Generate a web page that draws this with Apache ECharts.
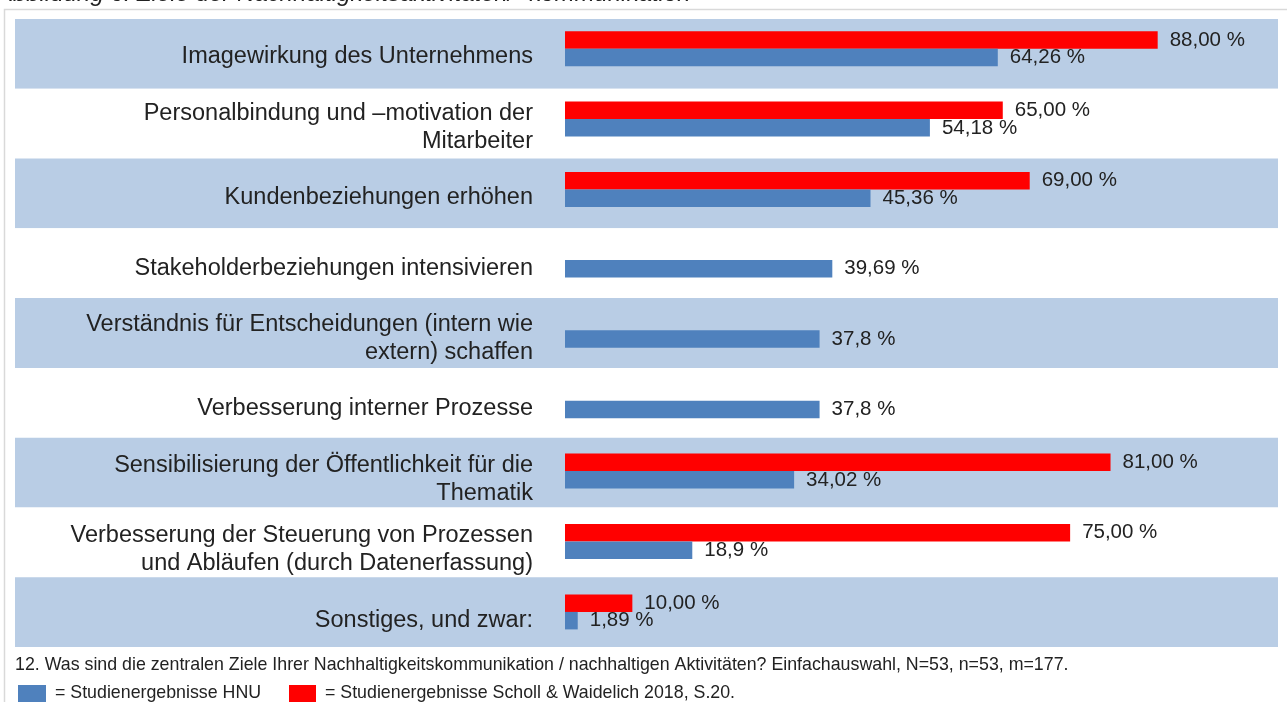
<!DOCTYPE html>
<html>
<head>
<meta charset="utf-8">
<title>Ziele der Nachhaltigkeitskommunikation</title>
<script src="https://cdn.jsdelivr.net/npm/echarts@6/dist/echarts.min.js"></script>
<style>
    html, body {margin: 0; padding: 0; background: #fff;}
    #zieleChart {width: 1287px; height: 702px;}
</style>
</head>
<body>
<div id="zieleChart"></div>
<script>
var categories = [
    'Imagewirkung des Unternehmens',
    'Personalbindung und \u2013motivation der\nMitarbeiter',
    'Kundenbeziehungen erhöhen',
    'Stakeholderbeziehungen intensivieren',
    'Verständnis für Entscheidungen (intern wie\nextern) schaffen',
    'Verbesserung interner Prozesse',
    'Sensibilisierung der Öffentlichkeit für die\nThematik',
    'Verbesserung der Steuerung von Prozessen\nund Abläufen (durch Datenerfassung)',
    'Sonstiges, und zwar:'
];
// Studienergebnisse HNU
var hnuValues = [64.26, 54.18, 45.36, 39.69, 37.8, 37.8, 34.02, 18.9, 1.89];
// Studienergebnisse Scholl & Waidelich 2018
var schollValues = [88, 65, 69, null, null, null, 81, 75, 10];

var captionText = 'Abbildung 6: Ziele der Nachhaltigkeitsaktivitäten/ -kommunikation';
var questionText = '12. Was sind die zentralen Ziele Ihrer Nachhaltigkeitskommunikation / nachhaltigen Aktivitäten? Einfachauswahl, N=53, n=53, m=177.';
var legendHnu = '= Studienergebnisse HNU';
var legendScholl = '= Studienergebnisse Scholl & Waidelich 2018, S.20.';

var FONT = '"Liberation Sans", Arial, sans-serif';
var TEXT_COLOR = '#222222';

var myChart = echarts.init(document.getElementById('zieleChart'));

function hiddenX(gridIndex) {
    return {gridIndex: gridIndex, type: 'value', min: 0, max: 100, show: false};
}

var option = {
    animation: false,
    grid: [
        // hintergrund streifen
        {left: 15, right: 9, top: 19, height: 628},
        // beschriftung
        {left: 565, width: 673.5, top: 21.8, height: 633.6},
        // balken
        {left: 565, width: 673.5, top: 13.5, height: 633.6}
    ],
    xAxis: [hiddenX(0), hiddenX(1), hiddenX(2)],
    yAxis: [
        {
            gridIndex: 0, type: 'category', inverse: true, data: categories,
            axisLine: {show: false}, axisTick: {show: false}, axisLabel: {show: false},
            splitArea: {show: true, areaStyle: {color: ['#b9cde5', '#ffffff']}}
        },
        {
            gridIndex: 1, type: 'category', inverse: true, data: categories,
            axisLine: {show: false}, axisTick: {show: false},
            axisLabel: {
                margin: 32, fontFamily: FONT, fontSize: 23.5, lineHeight: 28,
                color: TEXT_COLOR, align: 'right'
            }
        },
        {
            gridIndex: 2, type: 'category', inverse: true, data: categories,
            show: false
        }
    ],
    series: [
        {
            name: 'Scholl & Waidelich 2018',
            type: 'bar',
            xAxisIndex: 2,
            yAxisIndex: 2,
            data: schollValues,
            barWidth: 17.5,
            barGap: '0%',
            itemStyle: {color: '#ff0000'},
            label: {
                show: true, position: 'right', distance: 12,
                fontFamily: FONT, fontSize: 20.5, color: TEXT_COLOR,
                formatter: function (p) {
                    return p.value.toFixed(2).replace('.', ',') + ' %';
                }
            }
        },
        {
            name: 'HNU',
            type: 'bar',
            xAxisIndex: 2,
            yAxisIndex: 2,
            data: hnuValues,
            barWidth: 17.5,
            barGap: '0%',
            itemStyle: {color: '#4f81bd'},
            label: {
                show: true, position: 'right', distance: 12,
                fontFamily: FONT, fontSize: 20.5, color: TEXT_COLOR,
                formatter: function (p) {
                    return String(p.value).replace('.', ',') + ' %';
                }
            }
        }
    ],
    graphic: [
        {
            type: 'rect', silent: true,
            shape: {x: 4.5, y: 9.5, width: 1300, height: 720},
            style: {fill: 'none', stroke: '#d9d9d9', lineWidth: 1.5}
        },
        {
            type: 'text', left: -3, top: -18, silent: true,
            style: {text: captionText, font: 'italic 24px ' + FONT, fill: TEXT_COLOR}
        },
        {
            type: 'text', left: 15, top: 656, silent: true,
            style: {text: questionText, font: '17.8px ' + FONT, fill: TEXT_COLOR}
        },
        {
            type: 'rect', silent: true,
            shape: {x: 18, y: 685, width: 28, height: 20},
            style: {fill: '#4f81bd'}
        },
        {
            type: 'text', left: 55, top: 684, silent: true,
            style: {text: legendHnu, font: '17.8px ' + FONT, fill: TEXT_COLOR}
        },
        {
            type: 'rect', silent: true,
            shape: {x: 289, y: 685, width: 27, height: 20},
            style: {fill: '#ff0000'}
        },
        {
            type: 'text', left: 325, top: 684, silent: true,
            style: {text: legendScholl, font: '17.8px ' + FONT, fill: TEXT_COLOR}
        }
    ]
};
myChart.setOption(option);
window.onresize = function () {
    myChart.resize();
};
</script>
</body>
</html>
